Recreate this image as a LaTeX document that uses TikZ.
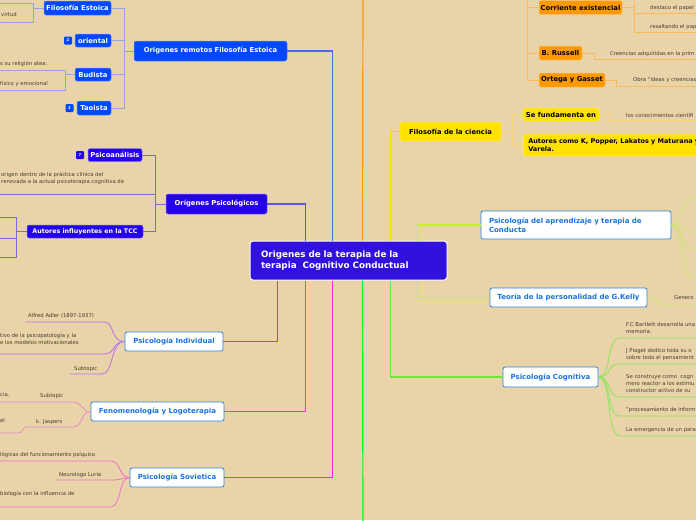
\documentclass[tikz,border=0pt]{standalone}
\usepackage{fontspec}
\setmainfont{DejaVu Sans}
\definecolor{bgc}{RGB}{232,212,168}
\definecolor{centralc}{RGB}{50,16,222}
\definecolor{bluec}{RGB}{0,72,255}
\definecolor{violetc}{RGB}{36,0,235}
\definecolor{wborder}{RGB}{40,130,230}
\definecolor{wtext}{RGB}{25,115,225}
\definecolor{orangec}{RGB}{255,153,0}
\definecolor{yellowc}{RGB}{255,226,0}
\definecolor{leafc}{RGB}{70,60,50}
\definecolor{lblue}{RGB}{70,110,225}
\definecolor{lbluebr}{RGB}{150,165,215}
\definecolor{lviolet}{RGB}{100,80,235}
\definecolor{lvioletbr}{RGB}{120,105,220}
\definecolor{lpurple}{RGB}{160,70,240}
\definecolor{lpurplebr}{RGB}{185,110,235}
\definecolor{lmagenta}{RGB}{235,50,230}
\definecolor{lmagentabr}{RGB}{230,140,205}
\definecolor{lpink}{RGB}{255,40,200}
\definecolor{lpinkbr}{RGB}{240,110,200}
\definecolor{lorange}{RGB}{255,150,20}
\definecolor{lorangebr}{RGB}{250,185,90}
\definecolor{lyellow}{RGB}{255,215,0}
\definecolor{lyellowbr}{RGB}{250,215,110}
\definecolor{lygreen}{RGB}{200,240,50}
\definecolor{lygreenbr}{RGB}{205,230,110}
\definecolor{lgreen}{RGB}{110,230,60}
\definecolor{lgreenbr}{RGB}{140,230,90}
\definecolor{lbright}{RGB}{0,255,20}
\newcommand\boxfont{\fontsize{6.8}{8.5}\selectfont\bfseries}
\newcommand\wboxfont{\fontsize{7}{8.5}\selectfont\bfseries}
\newcommand\leaffont{\fontsize{5.3}{7}\selectfont}
\newcommand\centralfont{\fontsize{8.8}{11}\selectfont\bfseries}
\begin{document}
\begin{tikzpicture}[x=1pt,y=-1pt,
    box/.style={rounded corners=2pt, inner sep=0pt, font=\boxfont, align=center},
    bluebox/.style={box, fill=bluec, draw=bluec!60!white, line width=0.5pt, text=white},
    violetbox/.style={box, fill=violetc, draw=violetc!55!white, line width=0.5pt, text=white},
    whitebox/.style={box, font=\wboxfont, fill=white, draw=wborder, line width=0.8pt, text=wtext},
    orangebox/.style={box, fill=orangec, draw=orangec!60!white, line width=0.5pt, text=black},
    yellowbox/.style={box, fill=yellowc, draw=yellowc!60!white, line width=0.5pt, text=black},
    badge/.style={rounded corners=1pt, inner sep=0pt, minimum width=8, minimum height=8,
      font=\fontsize{3.8}{4}\selectfont\bfseries, text=white},
    leaf/.style={anchor=west, inner sep=0pt, font=\leaffont, text=leafc, align=left},
    mainline/.style={line width=1.2pt},
    subline/.style={line width=0.8pt}]
  \fill[bgc] (0,0) rectangle (696,520);
  \useasboundingbox (0,0) rectangle (696,520);
  \clip (0,0) rectangle (696,520);

  % central topic
  \node[rounded corners=3pt, fill=centralc, draw=white, line width=1pt, text=white,
    font=\centralfont, align=left, text width=175, inner xsep=11, minimum height=39]
    (central) at (348.5,260.5) {Origenes de la terapia de la\\terapia~ Cognitivo Conductual};

  % left topics
  \node[bluebox, minimum width=153, minimum height=20] (remotos) at (210.5,51) {Origenes remotos Filosofía Estoica};
  \node[bluebox, minimum width=67, minimum height=14] (estoica) at (77.5,8) {Filosofía Estoica};
  \node[bluebox, minimum width=36, minimum height=13] (oriental) at (93,40.5) {oriental};
  \node[bluebox, minimum width=36, minimum height=13] (budista) at (93,74.5) {Budista};
  \node[bluebox, minimum width=34, minimum height=14] (taoista) at (94,108) {Taoista};
  \node[badge, fill=bluec] (badgeA) at (68,40.5) {2};
  \node[badge, fill=bluec] (badgeB) at (69.5,108) {2};

  \node[violetbox, minimum width=101, minimum height=20] (psico) at (216.5,204) {Orígenes Psicológicos};
  \node[violetbox, minimum width=54, minimum height=13] (psicoan) at (115,155) {Psicoanálisis};
  \node[violetbox, minimum width=116, minimum height=13, font=\fontsize{6.3}{8}\selectfont\bfseries]
    (autores) at (85,231.5) {Autores influyentes en la TCC};
  \node[badge, fill=violetc] (badgeC) at (80,155) {7};

  \node[whitebox, minimum width=98, minimum height=19] (indiv) at (174,341.5) {Psicología Individual};
  \node[whitebox, minimum width=133, minimum height=19] (fenom) at (157.5,411.5) {Fenomenología y Logoterapia};
  \node[whitebox, minimum width=94, minimum height=19] (sovi) at (177,477.5) {Psicología Sovietica};

  % right topics
  \node[orangebox, minimum width=83, minimum height=14] (corriente) at (580.5,7.5) {Corriente existencial};
  \node[orangebox, minimum width=43, minimum height=14] (russell) at (560.5,53) {B. Russell};
  \node[orangebox, minimum width=66, minimum height=14] (ortega) at (572,80) {Ortega y Gasset};
  \node[yellowbox, minimum width=101, minimum height=19] (ciencia) at (450.5,131.5) {Filosofía de la ciencia};
  \node[yellowbox, minimum width=76, minimum height=13] (fundam) at (561,114.5) {Se fundamenta en};
  \node[yellowbox, anchor=west, align=left, text width=200, inner xsep=5, minimum height=22,
    font=\fontsize{6.5}{8.5}\selectfont\bfseries]
    (popper) at (523,145) {Autores como K, Popper, Lakatos y Maturana y\\Varela.};
  \node[whitebox, align=left, text width=174, inner xsep=8, minimum height=28]
    (aprend) at (576,225) {Psicología del aprendizaje y terapia de\\Conducta};
  \node[whitebox, minimum width=157, minimum height=19] (kelly) at (568.5,297.5) {Teoría de la personalidad de G.Kelly};
  \node[whitebox, minimum width=95, minimum height=20] (cogn) at (550.5,377) {Psicología Cognitiva};

  % leaves
  \node[leaf] (virtud) at (1,15) {virtud};
  \node[leaf] (atea) at (0,64) {s su religión atea.};
  \node[leaf] (fisico) at (0,84) {físico y emocional};
  \node[leaf] (origen) at (1,178) {origen dentro de la práctica clínica del\\renovada a la actual psicoterapia cognitiva de};
  \node[leaf] (adler) at (28,316) {Alfred Adler (1897-1937)};
  \node[leaf] (psicopat) at (0,338.5) {tivo de la psicopatología y la\\e los modelos motivacionales};
  \node[leaf] (subtA) at (74,369) {Subtopic};
  \node[leaf] (cia) at (0,395) {cia.};
  \node[leaf] (subtB) at (40,396) {Subtopic};
  \node[leaf] (jaspers) at (36,422) {k. Jaspers};
  \node[leaf] (del) at (0,421) {el};
  \node[leaf] (psiquico) at (0,455) {lógicas del funcionamiento psíquico};
  \node[leaf] (luria) at (59,475) {Neurologo Luria};
  \node[leaf] (biologia) at (0,494) {biología con la influencia de};
  \node[leaf] (destaco) at (650,8) {destaco el papel};
  \node[leaf] (resalta) at (650,27) {resaltando el pap};
  \node[leaf] (creencias) at (610,54) {Creencias adquiridas en la prim};
  \node[leaf] (obra) at (633,80) {Obra "ideas y creencias};
  \node[leaf] (conoc) at (626,115) {los conocimientos científi};
  \node[leaf] (genero) at (674,298) {Genero};
  \node[leaf] (bartlett) at (626,328.5) {F.C Bartlett desarrolla una\\memoria.};
  \node[leaf] (piaget) at (626,355) {J Piaget dedico toda su o\\sobre todo el pensamient};
  \node[leaf] (construye) at (626,384) {Se construye como~ cogn\\mero reactor a los estímu\\constructor activo de su};
  \node[leaf] (proces) at (626,410) {"procesamiento de inform};
  \node[leaf] (emerg) at (626,430) {La emergencia de un para};

  % free ends
  \coordinate (offtop) at (363,-10);
  \coordinate (offbot) at (363,530);
  \coordinate (rb) at (124,51);
  \coordinate (eb) at (33,8);
  \coordinate (bb) at (65,74.5);
  \coordinate (pb) at (155,204);
  \coordinate (ab) at (16,231.5);
  \coordinate (ob) at (527,-10);
  \coordinate (cb) at (634,7.5);
  \coordinate (yb) at (512,131.5);

  % main connectors
  \draw[mainline, lblue] (remotos.east) -| ([xshift=83pt]central.north west);
  \draw[mainline, lviolet] (psico.east) -| ([xshift=56pt]central.north west);
  \draw[mainline, lorange] ([xshift=113pt]central.north west) -- (offtop);
  \draw[mainline, lyellow] ([xshift=141pt]central.north west) |- (ciencia.west);
  \draw[mainline, lygreen] ([xshift=168pt]central.north west) |- (aprend.west);
  \draw[mainline, lpurple] (indiv.east) -| ([xshift=28pt]central.south west);
  \draw[mainline, lmagenta] (fenom.east) -| ([xshift=56pt]central.south west);
  \draw[mainline, lpink] (sovi.east) -| ([xshift=83pt]central.south west);
  \draw[mainline, lbright] ([xshift=113pt]central.south west) -- (offbot);
  \draw[mainline, lgreen] ([xshift=141pt]central.south west) |- (cogn.west);
  \draw[mainline, lygreen] ([xshift=168pt]central.south west) |- (kelly.west);

  % left brackets
  \begin{scope}[subline, lbluebr]
    \draw (remotos.west) -- (rb);
    \foreach \c in {estoica,oriental,budista,taoista}
      \draw (rb) |- (\c.east);
    \draw (estoica.west) -- (eb) |- (0,3);
    \draw (eb) |- (0,22);
    \draw (budista.west) -- (bb) |- (0,70);
    \draw (bb) |- (0,90);
  \end{scope}
  \begin{scope}[subline, lvioletbr]
    \draw (psico.west) -- (pb);
    \draw (pb) |- (psicoan.east);
    \draw (pb) |- (autores.east);
    \draw (pb) |- (0,194);
    \draw (autores.west) -- (ab);
    \draw (ab) |- (0,217);
    \draw (ab) |- (0,238);
    \draw (ab) |- (0,257);
  \end{scope}

  % left curved leaves
  \begin{scope}[subline, lpurplebr]
    \draw (indiv.west) .. controls (110,341.5) and (115,322) .. (104,322) -- (25,322);
    \draw (indiv.west) .. controls (112,341.5) and (116,354) .. (104,354) -- (0,354);
    \draw (indiv.west) .. controls (110,341.5) and (114,374) .. (102,374) -- (70,374);
  \end{scope}
  \begin{scope}[subline, lmagentabr]
    \draw (fenom.west) .. controls (80,411.5) and (84,402) .. (72,402) -- (0,402);
    \draw (fenom.west) .. controls (80,411.5) and (84,427) .. (72,427) -- (26,427)
      .. controls (22,427) and (24,433) .. (18,433) -- (0,433);
  \end{scope}
  \begin{scope}[subline, lpinkbr]
    \draw (sovi.west) .. controls (118,477.5) and (122,461) .. (110,461) -- (0,461);
    \draw (sovi.west) .. controls (122,478) and (120,480) .. (112,480) -- (55,480);
    \draw (sovi.west) .. controls (118,477.5) and (122,507) .. (110,507) -- (0,507);
  \end{scope}

  % right brackets
  \begin{scope}[subline, lorangebr]
    \foreach \c in {corriente,russell,ortega}
      \draw (ob) |- (\c.west);
    \draw (corriente.east) -- (cb) -- (634,-10);
    \draw (cb) |- (700,13);
    \draw (cb) |- (700,32);
    \draw (russell.east) -- (594,53) |- (700,59);
    \draw (ortega.east) -- (616,80) |- (700,86);
  \end{scope}
  \begin{scope}[subline, lyellowbr]
    \draw (ciencia.east) -- (yb);
    \draw (yb) |- (fundam.west);
    \draw (yb) |- (popper.west);
    \draw (fundam.east) -- (610,114.5) |- (700,120);
  \end{scope}

  % right curved leaves
  \begin{scope}[subline, lygreenbr]
    \foreach \y in {198,230,249,277}
      \draw (aprend.east) .. controls (684,225) and (680,\y) .. (692,\y) -- (700,\y);
    \draw (kelly.east) .. controls (660,297.5) and (656,305) .. (668,305) -- (700,305);
  \end{scope}
  \begin{scope}[subline, lgreenbr]
    \foreach \y in {338,364,397,416,436}
      \draw (cogn.east) .. controls (612,377) and (606,\y) .. (620,\y) -- (700,\y);
  \end{scope}
\end{tikzpicture}
\end{document}
